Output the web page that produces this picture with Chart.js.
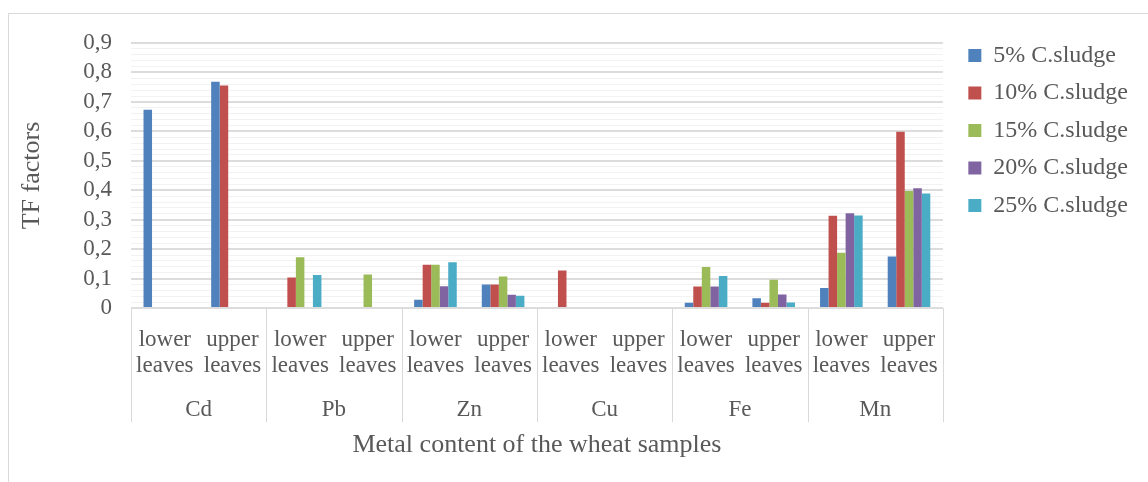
<!DOCTYPE html>
<html>
<head>
<meta charset="utf-8">
<script src="https://cdn.jsdelivr.net/npm/chart.js@4/dist/chart.umd.min.js"></script>
<style>
  html, body { margin: 0; padding: 0; background: #fff; overflow: hidden; }
  #frame { position: absolute; left: 8px; top: 13px; width: 1300px; height: 600px; border: 1px solid #d9d9d9; }
  #wrap { position: absolute; left: 0; top: 0; width: 1148px; height: 482px; }
</style>
</head>
<body>
<div id="frame"></div>
<div id="wrap"><canvas id="tfChart"></canvas></div>
<script>
var categories = [['lower', 'leaves'], ['upper', 'leaves'], ['lower', 'leaves'], ['upper', 'leaves'],
                  ['lower', 'leaves'], ['upper', 'leaves'], ['lower', 'leaves'], ['upper', 'leaves'],
                  ['lower', 'leaves'], ['upper', 'leaves'], ['lower', 'leaves'], ['upper', 'leaves']];
var metals = ['Cd', 'Pb', 'Zn', 'Cu', 'Fe', 'Mn'];
var seriesNames = ['5% C.sludge', '10% C.sludge', '15% C.sludge', '20% C.sludge', '25% C.sludge'];

var sludge5  = [0.673, 0.768, 0,     0,     0.028, 0.080, 0,     0, 0.018, 0.033, 0.068, 0.175];
var sludge10 = [0,     0.756, 0.104, 0,     0.147, 0.080, 0.127, 0, 0.073, 0.018, 0.313, 0.599];
var sludge15 = [0,     0,     0.172, 0.114, 0.147, 0.107, 0,     0, 0.139, 0.096, 0.188, 0.397];
var sludge20 = [0,     0,     0,     0,     0.074, 0.045, 0,     0, 0.073, 0.046, 0.322, 0.407];
var sludge25 = [0,     0,     0.112, 0,     0.155, 0.042, 0,     0, 0.109, 0.019, 0.314, 0.389];

var colors = ['#4f81bd', '#c0504d', '#9bbb59', '#8064a2', '#4bacc6'];
var allSeries = [sludge5, sludge10, sludge15, sludge20, sludge25];

var textColor = '#595959';
var serif = '"Liberation Serif", "Times New Roman", serif';

function isMajor(v) {
  return Math.round(v * 100) % 10 === 0;
}

// vertical dividers between metal groups, under the plot
var groupDividers = {
  id: 'groupDividers',
  afterDraw: function(chart) {
    var x2 = chart.scales.x2;
    var ctx = chart.ctx;
    var y0 = chart.chartArea.bottom;
    var y1 = x2.top + 44;
    ctx.save();
    ctx.strokeStyle = '#d9d9d9';
    ctx.lineWidth = 1;
    for (var i = 0; i <= metals.length; i++) {
      var px = Math.round(x2.getPixelForValue(i - 0.5)) + 0.5;
      ctx.beginPath();
      ctx.moveTo(px, y0);
      ctx.lineTo(px, y1);
      ctx.stroke();
    }
    ctx.restore();
  }
};

var datasets = allSeries.map(function(vals, i) {
  return {
    label: seriesNames[i],
    data: vals,
    backgroundColor: colors[i],
    borderWidth: 0,
    categoryPercentage: 0.63,
    barPercentage: 1.0
  };
});

var ctx = document.getElementById('tfChart').getContext('2d');
var tfChart = new Chart(ctx, {
  type: 'bar',
  data: { labels: categories, datasets: datasets },
  options: {
    responsive: true,
    maintainAspectRatio: false,
    animation: false,
    layout: { padding: { top: 30, left: 17, right: 10, bottom: 20 } },
    scales: {
      x: {
        position: 'bottom',
        grid: { display: false },
        border: { display: false },
        ticks: {
          color: textColor,
          font: { family: serif, size: 23, lineHeight: 1.17 },
          padding: 10,
          maxRotation: 0,
          autoSkip: false
        },
        afterFit: function(s) { s.height = 70; }
      },
      x2: {
        position: 'bottom',
        type: 'category',
        labels: metals,
        offset: true,
        grid: { display: false },
        border: { display: false },
        ticks: {
          color: textColor,
          font: { family: serif, size: 23, lineHeight: 1.17 },
          padding: 10,
          maxRotation: 0
        },
        title: {
          display: true,
          text: 'Metal content of the wheat samples',
          color: textColor,
          font: { family: serif, size: 26, lineHeight: 1.2 },
          padding: { top: 0, bottom: 1 }
        },
        afterFit: function(s) { s.height = 84; }
      },
      xTop: {
        position: 'top',
        type: 'category',
        labels: metals,
        display: true,
        grid: { display: false },
        border: { display: false },
        ticks: { display: false },
        afterFit: function(s) { s.height = 13; }
      },
      y: {
        min: 0,
        max: 0.9,
        border: { display: false },
        grid: {
          drawTicks: false,
          color: function(c) { return c.tick && isMajor(c.tick.value) ? '#dcdcdc' : '#f2f2f2'; },
          lineWidth: function(c) { return c.tick && isMajor(c.tick.value) ? 2 : 1; }
        },
        ticks: {
          stepSize: 0.02,
          autoSkip: false,
          maxTicksLimit: 100,
          padding: 19,
          color: textColor,
          font: { family: serif, size: 23, lineHeight: 1.2 },
          callback: function(v) {
            if (!isMajor(v)) return '';
            return v === 0 ? '0' : v.toFixed(1).replace('.', ',');
          }
        },
        title: {
          display: true,
          text: 'TF factors',
          color: textColor,
          font: { family: serif, size: 26, lineHeight: 1.2 },
          padding: 0
        },
        afterFit: function(s) { s.width = 114; }
      },
      yGap: {
        position: 'right',
        display: true,
        grid: { display: false },
        border: { display: false },
        ticks: { display: false },
        afterFit: function(s) { s.width = 12; }
      }
    },
    plugins: {
      legend: {
        position: 'right',
        align: 'start',
        labels: {
          boxWidth: 13,
          boxHeight: 13,
          padding: 13.5,
          color: textColor,
          font: { family: serif, size: 24 }
        }
      },
      tooltip: { enabled: false }
    }
  },
  plugins: [groupDividers]
});
</script>
</body>
</html>
